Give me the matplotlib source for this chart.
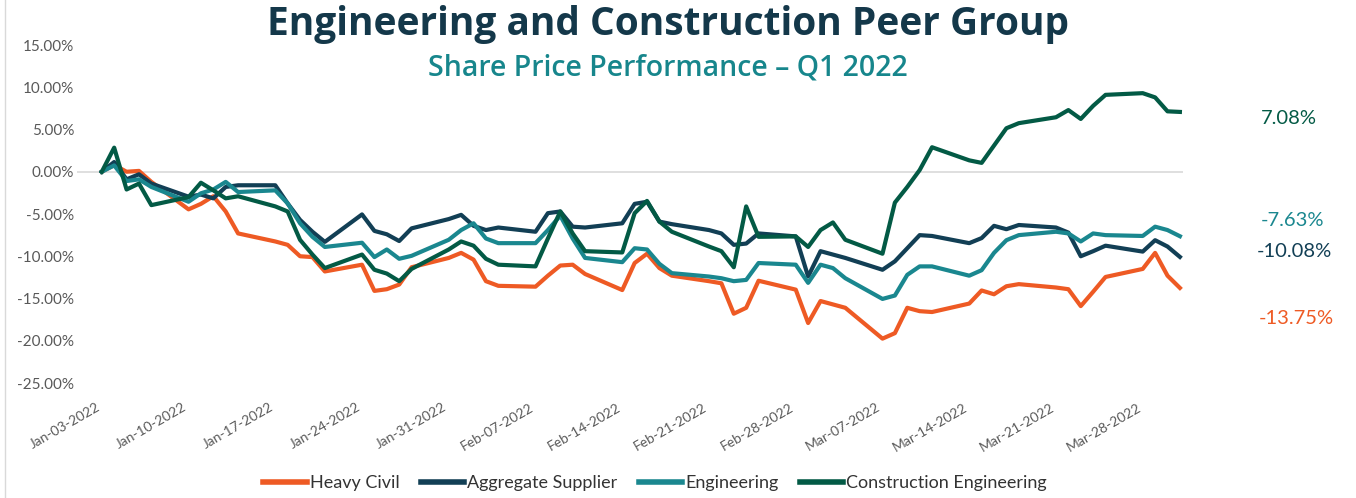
import matplotlib
matplotlib.use("Agg")
import matplotlib.pyplot as plt
import matplotlib.dates as mdates
from matplotlib.lines import Line2D
from matplotlib.ticker import FuncFormatter
import pandas as pd

# ---- data (weekdays Jan-03-2022 .. Mar-31-2022), % change since Jan-03 ----
dates = pd.bdate_range("2022-01-03", "2022-03-31")

heavy_civil = [
    0, 0.8, 0.0, 0.1, -1.2,
    -4.45, -3.8, -2.9, -4.7, -7.3,
    -8.25, -8.65, -10.0, -10.1, -11.8,
    -11.0, -14.1, -13.9, -13.35, -11.3,
    -10.2, -9.6, -10.4, -12.95, -13.5,
    -13.6, -12.3, -11.1, -11.0, -12.1,
    -14.0, -10.8, -9.7, -11.4, -12.3,
    -12.95, -13.2, -16.8, -16.1, -12.9,
    -13.95, -17.9, -15.3, -15.7, -16.1,
    -19.75, -19.1, -16.1, -16.5, -16.6,
    -15.6, -14.05, -14.5, -13.55, -13.3,
    -13.7, -13.9, -15.9, -14.2, -12.45,
    -11.5, -9.6, -12.3, -13.75,
]
aggregate_supplier = [
    0, 1.15, -0.9, -0.3, -1.4,
    -2.95, -2.7, -3.15, -1.8, -1.6,
    -1.6, -3.75, -5.7, -7.1, -8.3,
    -5.05, -7.0, -7.4, -8.2, -6.7,
    -5.6, -5.1, -6.4, -6.9, -6.6,
    -7.1, -4.9, -4.7, -6.5, -6.6,
    -6.1, -3.8, -3.55, -5.9, -6.2,
    -6.9, -7.3, -8.65, -8.5, -7.3,
    -7.65, -12.4, -9.4, -9.8, -10.2,
    -11.6, -10.6, -9.05, -7.5, -7.6,
    -8.45, -7.85, -6.4, -6.8, -6.3,
    -6.6, -7.2, -10.0, -9.4, -8.75,
    -9.45, -8.1, -8.85, -10.08,
]
engineering = [
    0, 0.75, -1.1, -0.9, -1.8,
    -3.55, -2.55, -2.1, -1.2, -2.4,
    -2.2, -3.75, -6.1, -7.7, -8.9,
    -8.4, -10.1, -9.2, -10.3, -9.95,
    -8.05, -6.9, -6.1, -7.9, -8.45,
    -8.45, -6.9, -5.2, -7.9, -10.2,
    -10.7, -9.05, -9.2, -10.9, -12.0,
    -12.4, -12.6, -12.95, -12.8, -10.8,
    -11.0, -13.15, -11.0, -11.4, -12.6,
    -15.05, -14.65, -12.2, -11.2, -11.2,
    -12.3, -11.65, -9.6, -8.1, -7.5,
    -7.1, -7.3, -8.25, -7.3, -7.5,
    -7.6, -6.5, -6.9, -7.63,
]
construction_engineering = [
    0, 2.85, -2.1, -1.4, -3.95,
    -3.0, -1.3, -2.2, -3.15, -2.9,
    -4.1, -4.7, -8.06, -9.8, -11.4,
    -9.8, -11.6, -12.05, -12.95, -11.5,
    -9.2, -8.25, -8.75, -10.3, -11.0,
    -11.2, -7.9, -4.7, -7.3, -9.4,
    -9.55, -4.9, -3.45, -5.9, -7.1,
    -8.85, -9.4, -11.3, -4.1, -7.7,
    -7.65, -8.9, -6.9, -6.0, -8.05,
    -9.7, -3.65, -1.8, 0.2, 2.9,
    1.35, 1.05, 3.1, 5.15, 5.75,
    6.45, 7.3, 6.25, 7.8, 9.1,
    9.3, 8.8, 7.15, 7.08,
]

series_names = ["Heavy Civil", "Aggregate Supplier", "Engineering", "Construction Engineering"]
series_values = [heavy_civil, aggregate_supplier, engineering, construction_engineering]
series_colors = ["#EE5A24", "#123F55", "#1A878F", "#035A45"]
final_labels = ["-13.75%", "-10.08%", "-7.63%", "7.08%"]

title = "Engineering and Construction Peer Group"
subtitle = "Share Price Performance \u2013 Q1 2022"
tick_dates = pd.date_range("2022-01-03", "2022-03-28", freq="7D")

# ---- figure ----
W, H = 1356, 498
fig = plt.figure(figsize=(W / 100, H / 100), dpi=100)
ax = fig.add_axes([77 / W, 1 - 383 / H, (1183 - 77) / W, (383 - 45) / H])

for name, vals, col in zip(series_names, series_values, series_colors):
    ax.plot(dates, vals, color=col, lw=3.0, label=name, solid_joinstyle="round")

ax.axhline(0, color="#D9D9D9", lw=1.2, zorder=0)

ax.set_ylim(-25, 15)
ax.set_yticks([15, 10, 5, 0, -5, -10, -15, -20, -25])
ax.yaxis.set_major_formatter(FuncFormatter(lambda v, p: f"{v:.2f}%"))
ax.set_xlim(pd.Timestamp("2022-01-01"), pd.Timestamp("2022-03-31 06:00"))
ax.set_xticks(tick_dates)
ax.xaxis.set_major_formatter(mdates.DateFormatter("%b-%d-%Y"))

for s in ax.spines.values():
    s.set_visible(False)
ax.tick_params(axis="both", length=0, colors="#595959")
ax.tick_params(axis="y", pad=2, labelsize=11)
ax.tick_params(axis="x", pad=13, labelsize=10)
for lab in ax.get_yticklabels():
    lab.set_fontfamily(["Lato", "DejaVu Sans"])
for lab in ax.get_xticklabels():
    lab.set_rotation(30)
    lab.set_ha("right")
    lab.set_va("top")
    lab.set_fontfamily(["Lato", "DejaVu Sans"])

# titles
fig.text(668 / W, 1 - 25 / H, title, ha="center", va="center", fontsize=28,
         fontweight="bold", color="#14384A", family=["Open Sans", "DejaVu Sans"])
fig.text(668 / W, 1 - 68 / H, subtitle, ha="center", va="center", fontsize=20.5,
         fontweight="semibold", color="#17868C", family=["Open Sans", "DejaVu Sans"])

# end labels
label_pos = [(1296, 318), (1294, 251), (1292, 220), (1289, 118)]
for (px, py), txt, col in zip(label_pos, final_labels, series_colors):
    fig.text(px / W, 1 - py / H, txt, ha="center", va="center", fontsize=14.5,
             color=col, family=["Lato", "DejaVu Sans"])

# legend
leg = fig.legend(*ax.get_legend_handles_labels(), loc="center", bbox_to_anchor=(655 / W, 1 - 483 / H),
                 ncol=4, frameon=False, handlelength=2.4, handletextpad=0.15,
                 columnspacing=1.2, prop={"family": ["Lato", "DejaVu Sans"], "size": 13})
for t in leg.get_texts():
    t.set_color("#333333")
for h in leg.get_lines():
    h.set_linewidth(4)

# thin border line on left
fig.add_artist(Line2D([5 / W, 5 / W], [0, 1], transform=fig.transFigure, color="#D9D9D9", lw=1))

fig.savefig("out.png", dpi=100)
